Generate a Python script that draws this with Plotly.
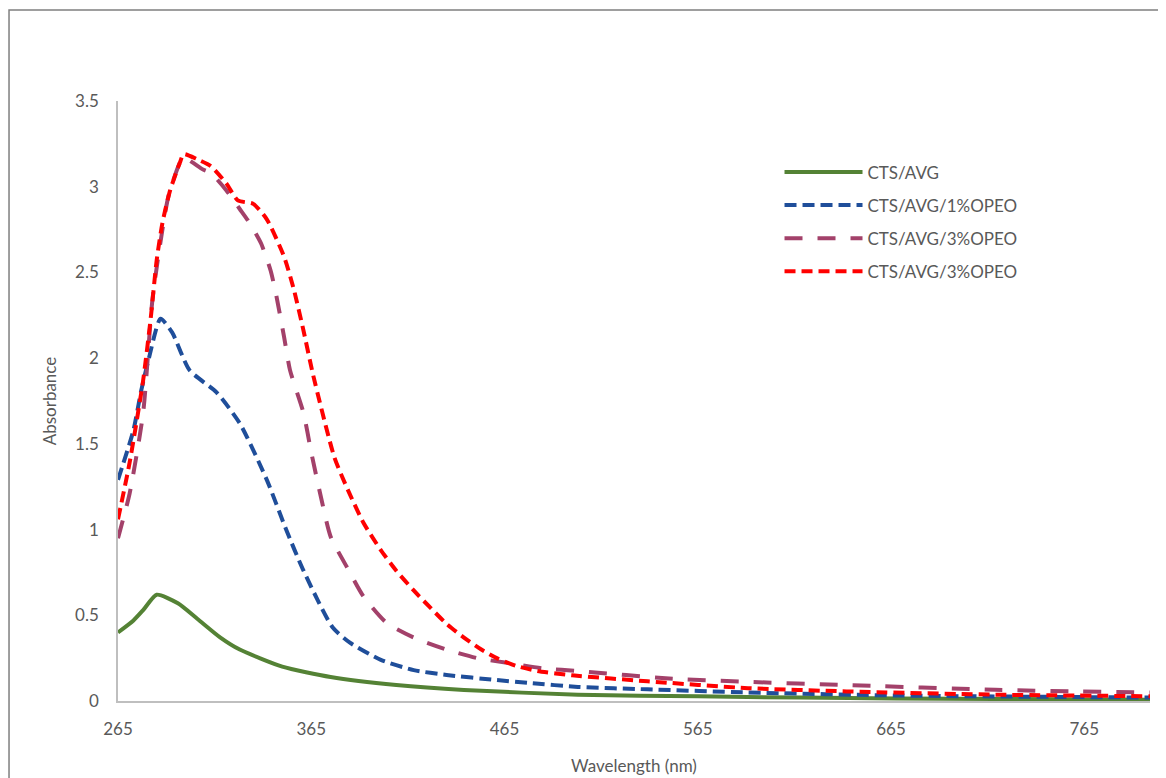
import plotly.graph_objects as go

# Wavelength (nm) / Absorbance readings
wl_g = [265, 273, 278, 285, 296, 306, 318, 328, 350, 375, 409, 444, 503, 565, 668, 799]
a_g = [0.40, 0.47, 0.53, 0.62, 0.57, 0.48, 0.37, 0.30, 0.20, 0.14, 0.093, 0.064, 0.037, 0.027, 0.014, 0.008]

wl_b = [265, 273, 277, 281, 287, 293, 302, 316, 328, 342, 352, 361, 376, 385, 401, 418, 435, 461, 478, 503, 539, 591, 668, 799]
a_b = [1.29, 1.58, 1.81, 2.0, 2.23, 2.15, 1.93, 1.80, 1.62, 1.29, 1.0, 0.76, 0.43, 0.34, 0.24, 0.18, 0.152, 0.122, 0.105, 0.082, 0.068, 0.05, 0.032, 0.02]

wl_p = [265, 271, 278, 283, 291, 297, 299, 309, 313, 321, 328, 333, 339, 344, 347, 351, 354, 361, 365, 370, 375, 384, 392, 404, 418, 435, 451, 468, 485, 503, 552, 590, 642, 719, 799]
a_p = [0.95, 1.21, 1.68, 2.36, 2.94, 3.14, 3.17, 3.10, 3.08, 2.98, 2.87, 2.79, 2.67, 2.51, 2.36, 2.12, 1.93, 1.68, 1.45, 1.19, 0.96, 0.77, 0.61, 0.455, 0.37, 0.30, 0.25, 0.22, 0.19, 0.175, 0.13, 0.112, 0.093, 0.065, 0.05]

wl_r = [265, 271, 278, 282, 285, 288, 292, 297, 299, 306, 313, 321, 327, 335, 342, 351, 356, 361, 366, 377, 384, 392, 401, 409, 418, 427, 435, 444, 453, 461, 471, 482, 500, 539, 591, 642, 719, 799]
a_r = [1.06, 1.39, 1.87, 2.24, 2.57, 2.79, 2.98, 3.14, 3.19, 3.16, 3.12, 3.02, 2.92, 2.90, 2.81, 2.59, 2.40, 2.16, 1.90, 1.42, 1.23, 1.04, 0.88, 0.76, 0.645, 0.54, 0.45, 0.37, 0.30, 0.25, 0.205, 0.175, 0.15, 0.115, 0.075, 0.056, 0.037, 0.028]

names = ["CTS/AVG", "CTS/AVG/1%OPEO", "CTS/AVG/3%OPEO", "CTS/AVG/3%OPEO"]
colors = ["#548235", "#1F4E9A", "#A3416A", "#FF0000"]
dashes = ["solid", "12px,6px", "18px,15px", "11px,6px"]
xs = [wl_g, wl_b, wl_p, wl_r]
ys = [a_g, a_b, a_p, a_r]

FONT = "Lato"
GRAY = "#595959"

fig = go.Figure()
for i in range(4):
    fig.add_trace(go.Scatter(
        x=xs[i], y=ys[i], mode="lines", name=names[i],
        legendgroup=f"g{i}",
        line=dict(color=colors[i], width=4, dash=dashes[i], shape="spline", smoothing=0.6),
    ))

fig.update_layout(
    width=1158, height=770,
    margin=dict(l=110, r=16, t=93, b=77),
    paper_bgcolor="white", plot_bgcolor="white",
    font=dict(family=FONT, size=17, color=GRAY),
    showlegend=True,
    legend=dict(x=0.641, y=0.911, xanchor="left", yanchor="top",
                bgcolor="rgba(0,0,0,0)", font=dict(family=FONT, size=17, color=GRAY),
                itemwidth=78, tracegroupgap=8),
    xaxis=dict(range=[265, 799], tick0=265, dtick=100, showgrid=False, zeroline=False,
               showline=True, linecolor="#BFBFBF", linewidth=1.5, ticks="",
               ticklabelstandoff=12, automargin=False,
               title=dict(text="Wavelength (nm)", standoff=22, font=dict(family=FONT, size=17, color=GRAY))),
    yaxis=dict(range=[0, 3.5], dtick=0.5, showgrid=False, zeroline=False,
               showline=True, linecolor="#BFBFBF", linewidth=1.5, ticks="",
               ticklabelstandoff=14, automargin=False,
               title=dict(text="Absorbance", standoff=14, font=dict(family=FONT, size=17, color=GRAY))),
    shapes=[dict(type="rect", xref="paper", yref="paper",
                 x0=-0.1056, x1=1.05, y0=-0.2, y1=1.1517,
                 line=dict(color="#7F7F7F", width=1.5), layer="below")],
)

fig.write_html("out.html")
